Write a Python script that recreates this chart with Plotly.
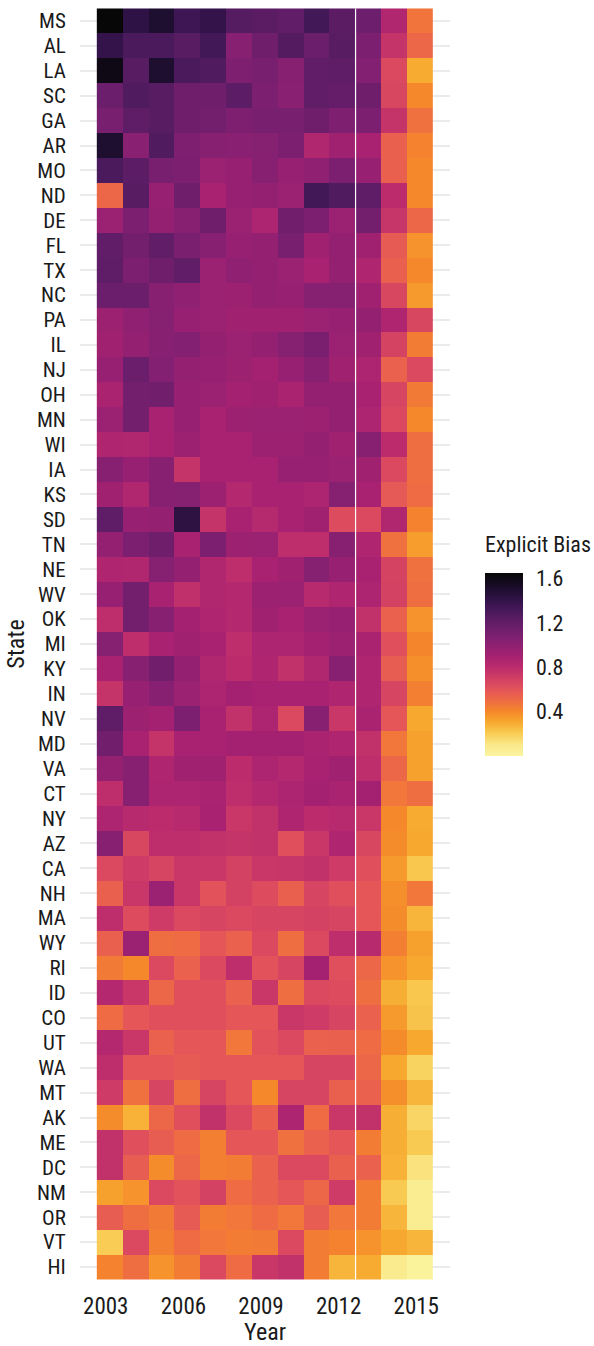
import plotly.graph_objects as go

years = list(range(2003, 2016))
states = ["MS", "AL", "LA", "SC", "GA", "AR", "MO", "ND", "DE", "FL",
          "TX", "NC", "PA", "IL", "NJ", "OH", "MN", "WI", "IA", "KS",
          "SD", "TN", "NE", "WV", "OK", "MI", "KY", "IN", "NV", "MD",
          "VA", "CT", "NY", "AZ", "CA", "NH", "MA", "WY", "RI", "ID",
          "CO", "UT", "WA", "MT", "AK", "ME", "DC", "NM", "OR", "VT", "HI"]

# Explicit bias, one row per state, columns 2003..2015
bias = [
    [1.65, 1.42, 1.50, 1.35, 1.40, 1.25, 1.23, 1.20, 1.33, 1.23, 1.15, 0.85, 0.47],  # MS
    [1.40, 1.30, 1.30, 1.24, 1.33, 1.03, 1.14, 1.26, 1.16, 1.24, 1.08, 0.76, 0.52],  # AL
    [1.60, 1.24, 1.50, 1.30, 1.27, 1.07, 1.10, 1.03, 1.20, 1.21, 1.05, 0.65, 0.30],  # LA
    [1.16, 1.27, 1.24, 1.14, 1.14, 1.22, 1.08, 1.02, 1.20, 1.18, 1.14, 0.66, 0.40],  # SC
    [1.10, 1.21, 1.24, 1.14, 1.12, 1.07, 1.10, 1.10, 1.14, 1.07, 1.08, 0.76, 0.48],  # GA
    [1.50, 1.02, 1.27, 1.07, 1.03, 1.02, 1.04, 1.08, 0.85, 0.92, 0.89, 0.55, 0.42],  # AR
    [1.30, 1.22, 1.10, 1.08, 0.95, 0.96, 1.03, 0.96, 1.00, 1.08, 0.96, 0.55, 0.40],  # MO
    [0.52, 1.24, 0.96, 1.14, 0.89, 0.96, 0.98, 0.95, 1.33, 1.27, 1.21, 0.80, 0.40],  # ND
    [0.95, 1.08, 0.98, 1.03, 1.14, 0.95, 0.87, 1.13, 1.08, 0.95, 1.12, 0.75, 0.52],  # DE
    [1.20, 1.12, 1.20, 1.09, 1.03, 0.96, 0.98, 1.10, 0.92, 0.98, 0.92, 0.57, 0.37],  # FL
    [1.21, 1.08, 1.14, 1.20, 0.95, 1.00, 0.98, 0.95, 0.89, 0.98, 0.86, 0.55, 0.40],  # TX
    [1.16, 1.16, 1.03, 1.00, 0.95, 0.94, 0.98, 0.96, 1.04, 1.04, 0.92, 0.66, 0.35],  # NC
    [0.94, 1.00, 1.04, 0.96, 0.95, 0.92, 0.92, 0.92, 0.95, 0.96, 0.98, 0.86, 0.66],  # PA
    [0.92, 0.98, 1.03, 1.05, 0.98, 0.95, 0.98, 1.04, 1.09, 0.95, 0.92, 0.68, 0.44],  # IL
    [0.96, 1.16, 1.05, 0.98, 0.96, 0.94, 0.91, 0.96, 1.03, 0.92, 0.87, 0.54, 0.65],  # NJ
    [0.88, 1.12, 1.13, 0.96, 0.95, 0.91, 0.92, 0.88, 0.98, 0.98, 0.89, 0.67, 0.45],  # OH
    [0.95, 1.12, 0.89, 0.96, 0.89, 0.94, 0.95, 0.95, 0.94, 0.98, 0.87, 0.65, 0.40],  # MN
    [0.86, 0.85, 0.89, 0.94, 0.89, 0.89, 0.94, 0.94, 0.98, 0.92, 1.03, 0.80, 0.49],  # WI
    [1.03, 0.96, 1.03, 0.76, 0.89, 0.89, 0.89, 0.96, 0.96, 0.95, 0.92, 0.65, 0.49],  # IA
    [0.92, 0.85, 1.03, 1.04, 0.94, 0.84, 0.89, 0.89, 0.87, 1.04, 0.89, 0.58, 0.50],  # KS
    [1.21, 0.96, 0.98, 1.43, 0.76, 0.89, 0.83, 0.89, 0.92, 0.64, 0.65, 0.85, 0.42],  # SD
    [0.98, 1.08, 1.14, 0.89, 1.08, 0.94, 0.95, 0.79, 0.79, 1.03, 0.86, 0.48, 0.34],  # TN
    [0.86, 0.85, 1.04, 0.98, 0.85, 0.79, 0.89, 0.92, 1.04, 0.96, 0.89, 0.68, 0.48],  # NE
    [0.96, 1.12, 0.89, 0.78, 0.85, 0.84, 0.94, 0.95, 0.82, 0.86, 0.87, 0.69, 0.49],  # WV
    [0.79, 1.12, 1.03, 0.91, 0.86, 0.84, 0.92, 0.89, 0.95, 0.96, 0.77, 0.54, 0.37],  # OK
    [1.04, 0.79, 0.89, 0.92, 0.89, 0.79, 0.87, 0.87, 0.91, 0.94, 0.88, 0.62, 0.41],  # MI
    [0.89, 1.03, 1.13, 0.98, 0.85, 0.80, 0.86, 0.77, 0.85, 1.03, 0.86, 0.56, 0.38],  # KY
    [0.76, 0.96, 1.03, 0.95, 0.87, 0.91, 0.89, 0.89, 0.89, 0.86, 0.86, 0.67, 0.43],  # IN
    [1.21, 0.94, 0.91, 1.08, 0.89, 0.77, 0.87, 0.65, 1.03, 0.74, 0.88, 0.59, 0.31],  # NV
    [1.13, 0.89, 0.76, 0.89, 0.89, 0.91, 0.91, 0.91, 0.88, 0.86, 0.77, 0.46, 0.33],  # MD
    [0.98, 1.03, 0.86, 0.92, 0.92, 0.80, 0.87, 0.84, 0.89, 0.92, 0.79, 0.52, 0.33],  # VA
    [0.79, 1.03, 0.87, 0.87, 0.88, 0.79, 0.84, 0.87, 0.91, 0.88, 0.91, 0.46, 0.49],  # CT
    [0.87, 0.82, 0.80, 0.82, 0.89, 0.74, 0.77, 0.86, 0.80, 0.82, 0.74, 0.40, 0.30],  # NY
    [1.03, 0.66, 0.79, 0.79, 0.77, 0.76, 0.77, 0.62, 0.74, 0.86, 0.66, 0.39, 0.31],  # AZ
    [0.65, 0.72, 0.67, 0.74, 0.74, 0.69, 0.74, 0.75, 0.77, 0.72, 0.62, 0.35, 0.22],  # CA
    [0.55, 0.74, 0.95, 0.74, 0.61, 0.69, 0.64, 0.55, 0.67, 0.62, 0.59, 0.38, 0.46],  # NH
    [0.79, 0.64, 0.72, 0.65, 0.67, 0.65, 0.67, 0.67, 0.69, 0.67, 0.59, 0.39, 0.27],  # MA
    [0.55, 0.95, 0.49, 0.50, 0.59, 0.54, 0.65, 0.49, 0.65, 0.79, 0.82, 0.43, 0.33],  # WY
    [0.45, 0.40, 0.65, 0.54, 0.65, 0.79, 0.61, 0.67, 0.91, 0.62, 0.52, 0.37, 0.31],  # RI
    [0.84, 0.74, 0.52, 0.62, 0.62, 0.54, 0.74, 0.49, 0.65, 0.64, 0.49, 0.29, 0.22],  # ID
    [0.50, 0.59, 0.62, 0.62, 0.62, 0.59, 0.59, 0.74, 0.72, 0.67, 0.54, 0.35, 0.23],  # CO
    [0.84, 0.74, 0.54, 0.59, 0.59, 0.46, 0.61, 0.65, 0.54, 0.55, 0.50, 0.39, 0.31],  # UT
    [0.79, 0.59, 0.59, 0.57, 0.59, 0.59, 0.59, 0.59, 0.67, 0.67, 0.52, 0.31, 0.18],  # WA
    [0.72, 0.48, 0.67, 0.49, 0.67, 0.59, 0.40, 0.67, 0.67, 0.55, 0.54, 0.38, 0.27],  # MT
    [0.39, 0.28, 0.52, 0.62, 0.77, 0.65, 0.55, 0.87, 0.50, 0.74, 0.77, 0.29, 0.17],  # AK
    [0.77, 0.62, 0.56, 0.50, 0.43, 0.59, 0.59, 0.48, 0.54, 0.59, 0.44, 0.29, 0.21],  # ME
    [0.77, 0.56, 0.39, 0.52, 0.43, 0.44, 0.54, 0.65, 0.65, 0.55, 0.54, 0.28, 0.12],  # DC
    [0.33, 0.37, 0.65, 0.61, 0.69, 0.50, 0.54, 0.59, 0.52, 0.72, 0.44, 0.21, 0.07],  # NM
    [0.56, 0.49, 0.45, 0.57, 0.44, 0.46, 0.50, 0.46, 0.56, 0.46, 0.44, 0.27, 0.07],  # OR
    [0.20, 0.65, 0.43, 0.50, 0.46, 0.44, 0.45, 0.65, 0.44, 0.42, 0.37, 0.31, 0.27],  # VT
    [0.42, 0.49, 0.37, 0.44, 0.65, 0.50, 0.74, 0.77, 0.44, 0.27, 0.30, 0.08, 0.02],  # HI
]

zmin, zmax = 0.0, 1.65
divider_year = 2012.5
x_ticks = [2003, 2006, 2009, 2012, 2015]
cbar_ticks = [0.4, 0.8, 1.2, 1.6]

# colour anchors (value, colour)
anchors = [
    (0.00, "#fbf4a0"), (0.10, "#fae98a"), (0.20, "#f9cd55"), (0.30, "#f7ab30"),
    (0.40, "#f5882a"), (0.50, "#ee6b44"), (0.60, "#e3545a"), (0.70, "#d13f64"),
    (0.80, "#bc2c6d"), (0.90, "#a62171"), (1.00, "#8f2072"), (1.10, "#781f6f"),
    (1.20, "#621d68"), (1.30, "#4a1a5c"), (1.40, "#33134a"), (1.50, "#1e0e30"),
    (1.65, "#070707"),
]
colorscale = [[(v - zmin) / (zmax - zmin), c] for v, c in anchors]

FONT = "Roboto Condensed, Liberation Sans Narrow, Arial Narrow, Roboto, sans-serif"
TXT = "#1a1a1a"

W, H = 594, 1346
m_l, m_r, m_t, m_b = 80, 144, 6, 64
plot_w = W - m_l - m_r
plot_h = H - m_t - m_b

def py(px_from_top):
    return (H - m_b - px_from_top) / plot_h

def pxx(px_from_left):
    return (px_from_left - m_l) / plot_w

bar_left, bar_thick = 485, 38
bar_top, bar_bottom = 573, 756
bar_len = bar_bottom - bar_top

fig = go.Figure()
fig.add_trace(go.Heatmap(
    z=bias, x=years, y=states,
    colorscale=colorscale, zmin=zmin, zmax=zmax,
    xgap=0, ygap=0,
    colorbar=dict(
        thickness=bar_thick, thicknessmode="pixels",
        len=bar_len, lenmode="pixels",
        x=pxx(bar_left), xanchor="left",
        y=py((bar_top + bar_bottom) / 2), yanchor="middle",
        xpad=0, ypad=0, outlinewidth=0,
        tickvals=cbar_ticks, ticktext=[f"{t:.1f}" for t in cbar_ticks],
        ticks="outside", ticklen=9, tickcolor="rgba(0,0,0,0)",
        tickfont=dict(family=FONT, size=22, color=TXT),
    ),
    hoverinfo="skip",
))

# white tick marks inside the colour bar, on both sides
for t in cbar_ticks:
    ypx = bar_bottom - (t - zmin) / (zmax - zmin) * bar_len
    for xa, xb in [(bar_left + 1, bar_left + 7), (bar_left + bar_thick - 7, bar_left + bar_thick - 1)]:
        fig.add_shape(type="line", xref="paper", yref="paper",
                      x0=pxx(xa), x1=pxx(xb), y0=py(ypx), y1=py(ypx),
                      line=dict(color="white", width=1.2))

fig.add_annotation(text="Explicit Bias", xref="paper", yref="paper",
                   x=pxx(bar_left - 2), y=py(559), xanchor="left", yanchor="bottom",
                   showarrow=False, font=dict(family=FONT, size=22, color=TXT))

fig.add_shape(type="line", xref="x", yref="y",
              x0=divider_year, x1=divider_year, y0=-0.5, y1=len(states) - 0.5,
              line=dict(color="white", width=1.2))

fig.update_layout(
    width=W, height=H,
    margin=dict(l=m_l, r=m_r, t=m_t, b=m_b),
    paper_bgcolor="white", plot_bgcolor="white",
    font=dict(family=FONT, size=22, color=TXT),
    xaxis=dict(
        range=[2002.5 - 0.65, 2015.5 + 0.65],
        tickmode="array", tickvals=x_ticks,
        showgrid=False, zeroline=False, showline=False,
        ticks="outside", ticklen=3, tickcolor="rgba(0,0,0,0)",
        ticklabelshift=-4,
        tickfont=dict(family=FONT, size=23, color=TXT),
        title=dict(text="Year", font=dict(family=FONT, size=24, color=TXT), standoff=5),
    ),
    yaxis=dict(
        type="category",
        categoryorder="array", categoryarray=states,
        tickmode="array", tickvals=states, ticktext=states,
        range=[len(states) - 1 + 0.6, -0.6],
        showgrid=True, gridcolor="#ebebeb", gridwidth=1.5,
        zeroline=False, showline=False,
        ticks="outside", ticklen=9, tickcolor="rgba(0,0,0,0)",
        tickfont=dict(family=FONT, size=21, color=TXT),
        title=dict(text="State", font=dict(family=FONT, size=24, color=TXT), standoff=5),
    ),
)

fig.write_html("out.html")
